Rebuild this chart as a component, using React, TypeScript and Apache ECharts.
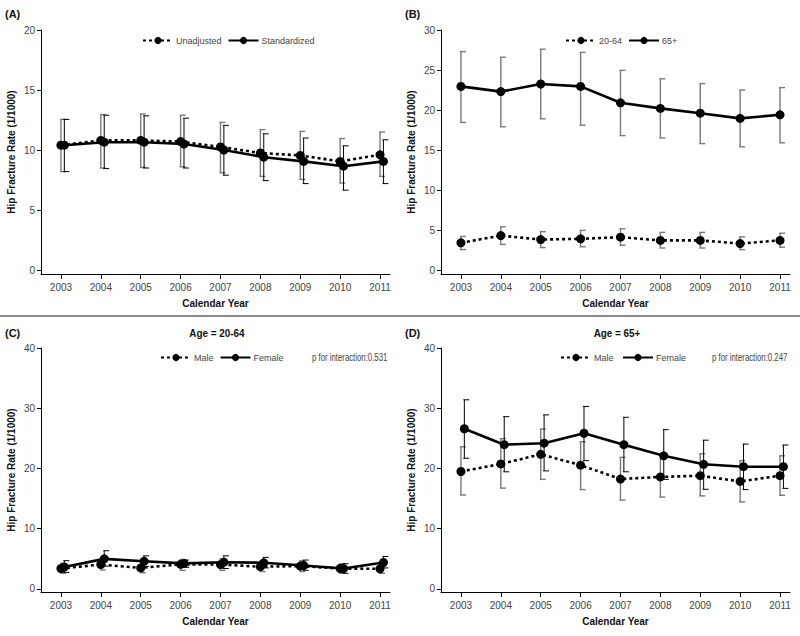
import React, { useEffect, useRef } from "react";
import * as echarts from "echarts";

const years = [2003, 2004, 2005, 2006, 2007, 2008, 2009, 2010, 2011];

// Panel A
const unadj = [10.4, 10.8, 10.8, 10.7, 10.25, 9.75, 9.55, 9.05, 9.6];
const unadjLow = [8.2, 8.5, 8.55, 8.6, 8.1, 7.8, 7.55, 7.25, 7.8];
const unadjHigh = [12.55, 12.95, 13.0, 12.9, 12.3, 11.7, 11.55, 10.95, 11.5];
const stdz = [10.4, 10.65, 10.65, 10.5, 10.0, 9.4, 9.05, 8.65, 9.05];
const stdzLow = [8.2, 8.45, 8.5, 8.5, 7.9, 7.45, 7.2, 6.65, 7.2];
const stdzHigh = [12.55, 12.9, 12.85, 12.65, 12.05, 11.35, 11.0, 10.35, 10.85];

// Panel B
const young = [3.4, 4.3, 3.8, 3.9, 4.1, 3.7, 3.7, 3.3, 3.7];
const youngLow = [2.55, 3.2, 2.8, 2.9, 3.1, 2.75, 2.75, 2.55, 2.85];
const youngHigh = [4.2, 5.4, 4.8, 4.95, 5.15, 4.7, 4.7, 4.15, 4.6];
const old = [22.95, 22.3, 23.25, 22.95, 20.9, 20.2, 19.6, 18.95, 19.4];
const oldLow = [18.45, 17.9, 18.9, 18.1, 16.8, 16.5, 15.8, 15.4, 15.9];
const oldHigh = [27.3, 26.6, 27.6, 27.2, 24.95, 23.9, 23.3, 22.5, 22.8];

// Panel C (Age 20-64)
const maleC = [3.4, 4.05, 3.5, 4.1, 4.05, 3.7, 3.8, 3.4, 3.35];
const maleCLow = [2.6, 3.15, 2.7, 3.1, 3.1, 2.9, 2.9, 2.6, 2.6];
const maleCHigh = [4.25, 4.9, 4.3, 4.9, 5.0, 4.6, 4.7, 4.2, 4.1];
const femaleC = [3.65, 5.0, 4.6, 4.25, 4.45, 4.35, 3.9, 3.4, 4.4];
const femaleCLow = [2.75, 3.8, 3.75, 3.6, 3.4, 3.5, 3.1, 2.6, 3.5];
const femaleCHigh = [4.7, 6.35, 5.5, 4.8, 5.5, 5.25, 4.8, 4.2, 5.4];

// Panel D (Age 65+)
const maleD = [19.5, 20.75, 22.35, 20.55, 18.25, 18.6, 18.8, 17.85, 18.8];
const maleDLow = [15.6, 16.75, 18.2, 16.5, 14.75, 15.25, 15.45, 14.45, 15.55];
const maleDHigh = [23.6, 24.95, 26.55, 24.45, 21.85, 22.1, 22.45, 21.3, 22.1];
const femaleD = [26.6, 23.95, 24.2, 25.85, 23.95, 22.1, 20.7, 20.3, 20.3];
const femaleDLow = [21.7, 19.45, 19.6, 21.3, 19.45, 18.2, 16.55, 16.5, 16.7];
const femaleDHigh = [31.4, 28.6, 28.9, 30.3, 28.5, 26.45, 24.7, 24.05, 23.9];

const yTicksA = [0, 5, 10, 15, 20];
const yTicksB = [0, 5, 10, 15, 20, 25, 30];
const yTicksCD = [0, 10, 20, 30, 40];

const FONT = "'Liberation Sans', Arial, sans-serif";
const DODGE = 0.085;

function errorBars(idx: number, xs: number[], lo: number[], hi: number[], color: string, width: number) {
  return {
    type: "custom",
    xAxisIndex: idx,
    yAxisIndex: idx,
    z: 1,
    silent: true,
    encode: { x: 0, y: [1, 2] },
    data: xs.map((x, i) => [x, lo[i], hi[i]]),
    renderItem: (params: any, api: any) => {
      const x = api.value(0);
      const top = api.coord([x, api.value(2)]);
      const bot = api.coord([x, api.value(1)]);
      const st = { stroke: color, lineWidth: width };
      return {
        type: "group",
        children: [
          { type: "line", shape: { x1: top[0], y1: top[1], x2: bot[0], y2: bot[1] }, style: st },
          { type: "line", shape: { x1: top[0] - 1, y1: top[1], x2: top[0] + 5, y2: top[1] }, style: st },
          { type: "line", shape: { x1: bot[0] - 1, y1: bot[1], x2: bot[0] + 5, y2: bot[1] }, style: st },
        ],
      };
    },
  };
}

function lineSeries(idx: number, name: string, xs: number[], ys: number[], dotted: boolean) {
  return {
    type: "line",
    name,
    xAxisIndex: idx,
    yAxisIndex: idx,
    z: 3,
    symbol: "circle",
    symbolSize: 9,
    data: xs.map((x, i) => [x, ys[i]]),
    itemStyle: { color: "#000" },
    lineStyle: { color: "#000", width: 2.6, type: dotted ? [3, 3] : "solid" },
  };
}

const grids = [
  { left: 41, top: 30, width: 349, height: 244, min: -1 / 3, max: 20, ticks: yTicksA },
  { left: 441, top: 30, width: 349, height: 244, min: -0.5, max: 30, ticks: yTicksB },
  { left: 41, top: 348, width: 349, height: 244, min: -0.5, max: 40, ticks: yTicksCD },
  { left: 441, top: 348, width: 349, height: 244, min: -0.5, max: 40, ticks: yTicksCD },
];

function label(text: string, x: number, y: number, bold: boolean, size: number, align: string, sx: number) {
  return {
    type: "text",
    x,
    y,
    scaleX: sx,
    style: {
      text,
      font: `${bold ? "bold " : ""}${size}px ${FONT}`,
      fill: bold ? "#111" : "#444",
      textAlign: align,
      textVerticalAlign: "middle",
    },
  };
}

export default function App() {
  const ref = useRef<HTMLDivElement>(null);
  useEffect(() => {
    if (!ref.current) return;
    const chart = echarts.init(ref.current, undefined, { renderer: "svg" });
    const dodged = years.map((y) => y + DODGE);

    const option: any = {
      animation: false,
      backgroundColor: "#fff",
      textStyle: { fontFamily: FONT },
      grid: grids.map((g) => ({ left: g.left, top: g.top, width: g.width, height: g.height })),
      xAxis: grids.map((g, i) => ({
        type: "value",
        gridIndex: i,
        min: 2002.5,
        max: 2011.25,
        name: "Calendar Year",
        nameLocation: "middle",
        nameGap: 24,
        nameTextStyle: { fontFamily: FONT, fontWeight: "bold", fontSize: 10, color: "#111" },
        splitLine: { show: false },
        axisLine: { onZero: false, lineStyle: { color: "#000", width: 1 } },
        axisTick: { customValues: years, length: 5, lineStyle: { color: "#000" } },
        axisLabel: {
          customValues: years,
          formatter: (v: number) => String(v),
          margin: 8,
          fontSize: 10,
          color: "#444",
          fontFamily: FONT,
        },
      })),
      yAxis: grids.map((g, i) => ({
        type: "value",
        gridIndex: i,
        min: g.min,
        max: g.max,
        name: "Hip Fracture Rate (1/1000)",
        nameLocation: "middle",
        nameGap: 25,
        nameTextStyle: { fontFamily: FONT, fontWeight: "bold", fontSize: 10, color: "#111" },
        splitLine: { show: false },
        axisLine: { show: true, lineStyle: { color: "#000", width: 1 } },
        axisTick: { show: true, customValues: g.ticks, length: 4, lineStyle: { color: "#000" } },
        axisLabel: { customValues: g.ticks, margin: 6, fontSize: 10, color: "#444", fontFamily: FONT },
      })),
      legend: [
        { data: ["Unadjusted", "Standardized"], left: 142, top: 36 },
        { data: ["20-64", "65+"], left: 565, top: 36 },
        { data: ["Male", "Female"], left: 160, top: 353 },
        { data: ["Male ", "Female "], left: 560, top: 353 },
      ].map((l) => ({
        ...l,
        padding: 0,
        orient: "horizontal",
        itemWidth: 30,
        itemHeight: 9,
        itemGap: 6,
        textStyle: { fontSize: 9, color: "#444", fontFamily: FONT, padding: [0, 0, 0, -2] },
      })),
      graphic: [
        { type: "rect", shape: { x: 0, y: 315, width: 800, height: 2 }, style: { fill: "#8a8a8a" } },
        label("(A)", 5, 14, true, 11, "left", 1),
        label("(B)", 405, 14, true, 11, "left", 1),
        label("(C)", 5, 333, true, 11, "left", 1),
        label("(D)", 405, 333, true, 11, "left", 1),
        label("Age = 20-64", 217, 333, true, 11, "center", 0.9),
        label("Age = 65+", 617, 333, true, 11, "center", 0.9),
        label("p for interaction:0.531", 312, 358, false, 10, "left", 0.78),
        label("p for interaction:0.247", 712, 358, false, 10, "left", 0.78),
      ],
      series: [
        errorBars(0, years, unadjLow, unadjHigh, "#7a7a7a", 1.4),
        errorBars(0, dodged, stdzLow, stdzHigh, "#000", 1),
        lineSeries(0, "Unadjusted", years, unadj, true),
        lineSeries(0, "Standardized", dodged, stdz, false),

        errorBars(1, years, youngLow, youngHigh, "#7a7a7a", 1.4),
        errorBars(1, years, oldLow, oldHigh, "#7a7a7a", 1.4),
        lineSeries(1, "20-64", years, young, true),
        lineSeries(1, "65+", years, old, false),

        errorBars(2, years, maleCLow, maleCHigh, "#7a7a7a", 1.4),
        errorBars(2, dodged, femaleCLow, femaleCHigh, "#000", 1),
        lineSeries(2, "Male", years, maleC, true),
        lineSeries(2, "Female", dodged, femaleC, false),

        errorBars(3, years, maleDLow, maleDHigh, "#7a7a7a", 1.4),
        errorBars(3, dodged, femaleDLow, femaleDHigh, "#000", 1),
        lineSeries(3, "Male ", years, maleD, true),
        lineSeries(3, "Female ", dodged, femaleD, false),
      ],
    };
    chart.setOption(option);
    return () => chart.dispose();
  }, []);
  return <div ref={ref} style={{ position: "absolute", left: 0, top: 0, width: 800, height: 636 }} />;
}
